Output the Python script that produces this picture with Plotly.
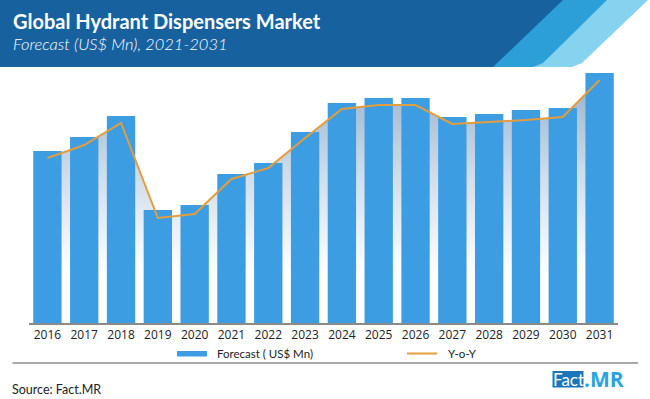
import plotly.graph_objects as go

years = ["2016", "2017", "2018", "2019", "2020", "2021", "2022", "2023",
         "2024", "2025", "2026", "2027", "2028", "2029", "2030", "2031"]
forecast = [172, 186, 207, 113, 118, 149, 160, 191,
            220, 225, 225, 206, 209, 213, 215, 250]
yoy = [165, 178, 200, 105, 109, 144, 155, 185,
       214, 218, 218, 199, 201, 203, 206, 243]

W_PX, H_PX = 650, 399
L, R, T, B = 29, 32, 63, 76
PW = W_PX - L - R
PH = H_PX - T - B
BOT = H_PX - B


def px(x):
    return (x - L) / PW


def py(y):
    return (BOT - y) / PH


BAR_C = "#3d9de2"
LINE_C = "#e39d3c"

fig = go.Figure()

# gradient shading under the Y-o-Y line (visible between bars)
fig.add_trace(go.Scatter(
    x=years, y=yoy, mode="none", fill="tozeroy",
    fillgradient=dict(type="vertical",
                      colorscale=[[0, "#ffffff"], [0.2, "#ffffff"],
                                  [0.6, "#cfdcea"], [1, "#93b0cf"]],
                      start=0, stop=250),
    hoverinfo="skip", showlegend=False, yaxis="y"))

fig.add_trace(go.Bar(x=years, y=forecast, name="Forecast ( US$ Mn)",
                     marker=dict(color=BAR_C, line=dict(width=0)),
                     yaxis="y2", showlegend=False))

fig.add_trace(go.Scatter(x=years, y=yoy, name="Y-o-Y", mode="lines",
                         line=dict(color=LINE_C, width=2),
                         yaxis="y3", showlegend=False))

shapes = []


def path_px(points, color):
    d = "M " + " L ".join(f"{px(a):.5f},{py(b):.5f}" for a, b in points) + " Z"
    return dict(type="path", xref="paper", yref="paper", path=d,
                fillcolor=color, line=dict(width=0), layer="above")


# banner
shapes.append(path_px([(0, 0), (648, 0), (582, 63), (572, 67), (0, 67)], "#86d3f0"))
shapes.append(path_px([(0, 0), (607, 0), (543, 63), (533, 67), (0, 67)], "#2d9fd8"))
shapes.append(path_px([(0, 0), (563, 0), (493, 67), (0, 67)], "#17619f"))

# legend
shapes.append(dict(type="rect", xref="paper", yref="paper",
                   x0=px(177), x1=px(207), y0=py(351), y1=py(356.5),
                   fillcolor=BAR_C, line=dict(width=0)))
shapes.append(dict(type="line", xref="paper", yref="paper",
                   x0=px(407), x1=px(437), y0=py(353.5), y1=py(353.5),
                   line=dict(color=LINE_C, width=2)))
# separator
shapes.append(dict(type="line", xref="paper", yref="paper",
                   x0=px(12.5), x1=px(638), y0=py(363), y1=py(363),
                   line=dict(color="#8c8c8c", width=1.5)))
# logo box
shapes.append(dict(type="rect", xref="paper", yref="paper",
                   x0=px(552.5), x1=px(583.5), y0=py(371), y1=py(387.5),
                   fillcolor="#1a76bb", line=dict(width=0)))

ann = []


def text(x, y, s, size, color, family="Open Sans", weight="normal",
         style="normal", xanchor="left"):
    ann.append(dict(x=px(x), y=py(y), xref="paper", yref="paper", text=s,
                    showarrow=False, xanchor=xanchor, yanchor="middle",
                    font=dict(size=size, color=color, family=family,
                              weight=weight, style=style)))


text(11, 21.5, "Global Hydrant Dispensers Market", 20, "white", "Lato", "bold")
text(11, 44, "Forecast (US$ Mn), 2021-2031", 16.5, "white", "Lato", 300, "italic")
text(215, 353, "Forecast ( US$ Mn)", 11.5, "#222222", "Lato")
text(446, 353, "Y-o-Y", 11.5, "#222222", "Lato")
text(10, 389.5, "Source: Fact.MR", 12.5, "#222222", "Lato")
text(568, 379, "Fact", 17, "white", "Lato", xanchor="center")
text(582, 379, ".MR", 21, "#2aa3de", "Open Sans", weight="bold")

fig.update_layout(
    width=W_PX, height=H_PX, autosize=False,
    margin=dict(l=L, r=R, t=T, b=B, pad=0),
    paper_bgcolor="white", plot_bgcolor="white",
    bargap=0.23, showlegend=False,
    font=dict(family="Open Sans", color="#222222"),
    xaxis=dict(type="category", range=[-0.5, 15.5], showgrid=False,
               showline=True, linecolor="#8a8a8a", linewidth=2, ticks="",
               tickfont=dict(size=12, color="#222222"), fixedrange=True),
    yaxis=dict(range=[0, 260], visible=False, fixedrange=True),
    yaxis2=dict(range=[0, 260], visible=False, overlaying="y", fixedrange=True),
    yaxis3=dict(range=[0, 260], visible=False, overlaying="y", fixedrange=True),
    shapes=shapes, annotations=ann,
)

fig.write_html("out.html", config={"displayModeBar": False},
               post_script="document.body.style.margin='0';document.body.style.overflow='hidden';")
